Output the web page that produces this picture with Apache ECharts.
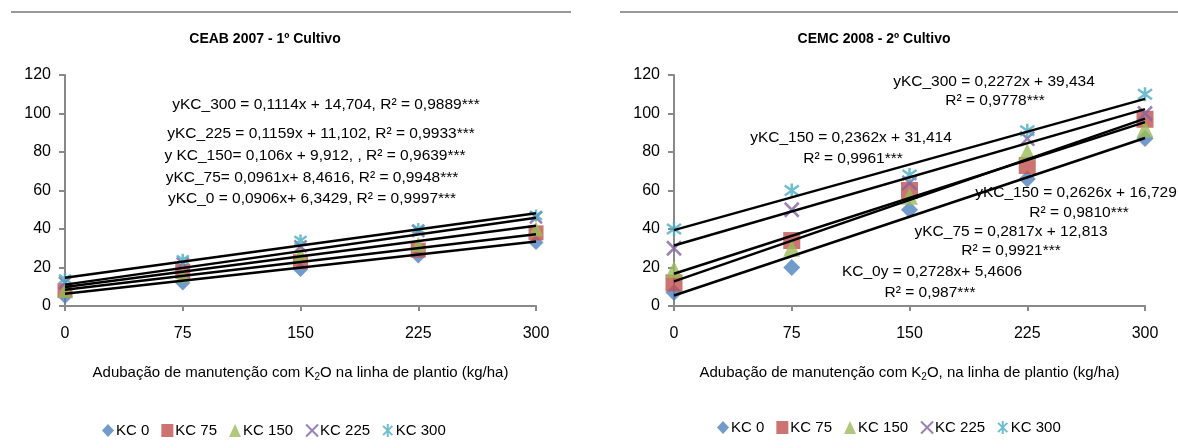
<!DOCTYPE html>
<html>
<head>
<meta charset="utf-8">
<script src="https://cdn.jsdelivr.net/npm/echarts@6/dist/echarts.min.js"></script>
<style>
  html, body { margin: 0; padding: 0; background: #fff; }
  #chart { width: 1178px; height: 448px; }
</style>
</head>
<body>
<div id="chart"></div>
<script>
"use strict";

// doses de K2O (kg/ha)
var doses = [0, 75, 150, 225, 300];
var seriesNames = ['KC 0', 'KC 75', 'KC 150', 'KC 225', 'KC 300'];

// CEAB 2007 - 1º cultivo
var ceabKC0   = [5, 12, 19, 26, 33];
var ceabKC75  = [8, 18, 23, 29, 38];
var ceabKC150 = [8, 16, 27, 32, 40];
var ceabKC225 = [12, 22, 31, 39, 46];
var ceabKC300 = [14, 24, 34, 40, 47];
var ceabSlope     = [0.0906, 0.0961, 0.106, 0.1159, 0.1114];
var ceabIntercept = [6.3429, 8.4616, 9.912, 11.102, 14.704];

// CEMC 2008 - 2º cultivo
var cemcKC0   = [7, 20, 50, 66, 87];
var cemcKC75  = [12, 34, 60, 73, 97];
var cemcKC150 = [19, 30, 57, 80, 92];
var cemcKC225 = [30, 50, 64, 87, 100];
var cemcKC300 = [40, 60, 68, 91, 110];
var cemcSlope     = [0.2728, 0.2817, 0.2626, 0.2362, 0.2272];
var cemcIntercept = [5.4606, 12.813, 16.729, 31.414, 39.434];

var ceabEquations = [
  'yKC_300 = 0,1114x + 14,704, R² = 0,9889***',
  'yKC_225 = 0,1159x + 11,102, R² = 0,9933***',
  'y KC_150= 0,106x + 9,912, , R² = 0,9639***',
  'yKC_75= 0,0961x+ 8,4616, R² = 0,9948***',
  'yKC_0 = 0,0906x+ 6,3429, R² = 0,9997***'
];
var cemcEquations = [
  'yKC_300 = 0,2272x + 39,434', 'R² = 0,9778***',
  'yKC_150 = 0,2362x + 31,414', 'R² = 0,9961***',
  'yKC_150 = 0,2626x + 16,729', 'R² = 0,9810***',
  'yKC_75 = 0,2817x + 12,813', 'R² = 0,9921***',
  'KC_0y = 0,2728x+ 5,4606', 'R² = 0,987***'
];

var colors = ['#4F81BD', '#C0504D', '#9BBB59', '#8064A2', '#4BACC6'];
var symbols = [
  'diamond',
  'rect',
  'triangle',
  'path://M0,0L10,10M10,0L0,10',
  'path://M0,0L10,10M10,0L0,10M5,-2L5,12'
];
var FONT = '"Liberation Sans", Arial, sans-serif';
var AXIS_GREY = '#898989';

function pairs(ys) {
  return doses.map(function (x, i) { return [x, ys[i]]; });
}

function buildSeries(gridIndex, groups, slopes, intercepts, size) {
  var out = [];
  groups.forEach(function (ys, i) {
    var stroked = i >= 3;
    out.push({
      name: seriesNames[i],
      type: 'scatter',
      xAxisIndex: gridIndex,
      yAxisIndex: gridIndex,
      symbol: symbols[i],
      symbolSize: stroked ? size - 3 : size,
      data: pairs(ys),
      z: 2,
      itemStyle: stroked
        ? { color: 'rgba(0,0,0,0)', borderColor: colors[i], borderWidth: 2.5 }
        : { color: colors[i] }
    });
  });
  // linhas de tendência, desenhadas a partir das equações mostradas
  slopes.forEach(function (m, i) {
    var x0 = doses[0], x1 = doses[doses.length - 1];
    out.push({
      name: 'tend' + gridIndex + '_' + i,
      type: 'line',
      xAxisIndex: gridIndex,
      yAxisIndex: gridIndex,
      showSymbol: false,
      silent: true,
      z: 5,
      data: [[x0, m * x0 + intercepts[i]], [x1, m * x1 + intercepts[i]]],
      lineStyle: { color: '#000', width: 2.5 }
    });
  });
  return out;
}

function xAxisFor(gridIndex, name) {
  return {
    type: 'value', gridIndex: gridIndex, min: 0, max: 300, interval: 75,
    name: name, nameLocation: 'middle', nameGap: 58,
    nameTextStyle: { fontFamily: FONT, fontSize: 15, color: '#000',
      rich: { sub: { fontFamily: FONT, fontSize: 10, color: '#000', verticalAlign: 'bottom', padding: [8, 0, 0, 0] } } },
    splitLine: { show: false },
    axisLine: { lineStyle: { color: AXIS_GREY, width: 2 } },
    axisTick: { show: true, length: 5, lineStyle: { color: AXIS_GREY, width: 2 } },
    axisLabel: { margin: 20, fontFamily: FONT, fontSize: 16, color: '#000' }
  };
}

function yAxisFor(gridIndex) {
  return {
    type: 'value', gridIndex: gridIndex, min: 0, max: 120, interval: 20,
    splitLine: { show: false },
    axisLine: { show: true, lineStyle: { color: AXIS_GREY, width: 2 } },
    axisTick: { show: true, length: 6, lineStyle: { color: AXIS_GREY, width: 2 } },
    axisLabel: { margin: 14, fontFamily: FONT, fontSize: 16, color: '#000' }
  };
}

function legendFor(left, top) {
  return {
    left: left, top: top, itemGap: 12, itemWidth: 12, itemHeight: 13,
    data: seriesNames, selectedMode: false,
    textStyle: { fontFamily: FONT, fontSize: 15, color: '#000', padding: [0, 0, 0, -3] }
  };
}

function textEl(text, x, y, size, weight) {
  return {
    type: 'text', x: x, y: y, silent: true,
    style: {
      text: text, fill: '#000',
      font: (weight || 'normal') + ' ' + size + 'px ' + FONT,
      textAlign: 'center', textVerticalAlign: 'middle',
      align: 'center', verticalAlign: 'middle'
    }
  };
}

var graphics = [
  { type: 'line', silent: true, shape: { x1: 11, y1: 12, x2: 571, y2: 12 }, style: { stroke: '#999', lineWidth: 2 } },
  { type: 'line', silent: true, shape: { x1: 620, y1: 12, x2: 1178, y2: 12 }, style: { stroke: '#999', lineWidth: 2 } },
  textEl('CEAB 2007 - 1º Cultivo', 265, 39, 14, 'bold'),
  textEl('CEMC 2008 - 2º Cultivo', 874, 39, 14, 'bold')
];
var ceabPos = [[326, 105], [321, 134], [315, 156], [312, 178], [312, 199]];
ceabEquations.forEach(function (t, i) {
  graphics.push(textEl(t, ceabPos[i][0], ceabPos[i][1], 15.5));
});
var cemcPos = [
  [994, 82], [995, 101],
  [851, 138], [853, 159],
  [1076, 193], [1079, 213],
  [1011, 232], [1011, 251],
  [932, 272], [930, 293]
];
cemcEquations.forEach(function (t, i) {
  graphics.push(textEl(t, cemcPos[i][0], cemcPos[i][1], 15.5));
});

var option = {
  animation: false,
  backgroundColor: '#fff',
  grid: [
    { left: 65, right: 642, top: 75, bottom: 142 },
    { left: 674, right: 33, top: 75, bottom: 142 }
  ],
  xAxis: [
    xAxisFor(0, 'Adubação de manutenção com K{sub|2}O na linha de plantio (kg/ha)'),
    xAxisFor(1, 'Adubação de manutenção com K{sub|2}O, na linha de plantio (kg/ha)')
  ],
  yAxis: [yAxisFor(0), yAxisFor(1)],
  legend: [legendFor(97, 418), legendFor(712, 415)],
  graphic: graphics,
  series: buildSeries(0, [ceabKC0, ceabKC75, ceabKC150, ceabKC225, ceabKC300], ceabSlope, ceabIntercept, 15)
    .concat(buildSeries(1, [cemcKC0, cemcKC75, cemcKC150, cemcKC225, cemcKC300], cemcSlope, cemcIntercept, 17))
};

var myChart = echarts.init(document.getElementById('chart'));
myChart.setOption(option);
</script>
</body>
</html>
